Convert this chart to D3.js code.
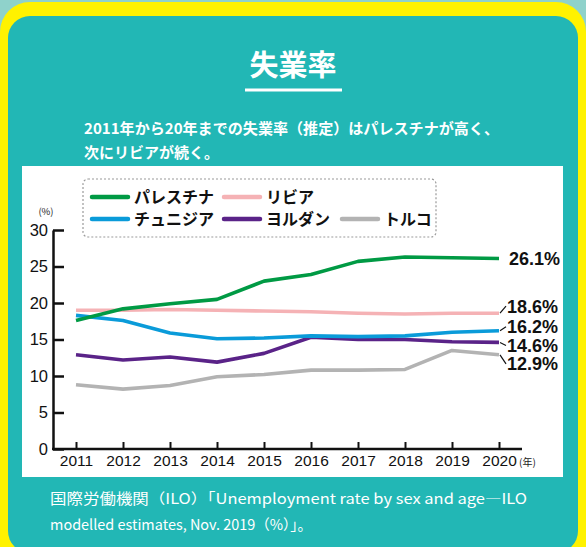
<!DOCTYPE html>
<html>
<head>
<meta charset="utf-8">
<script src="https://cdn.jsdelivr.net/npm/d3@7"></script>
<style>
  body { margin: 0; background: #8fd2cb; }
  svg { display: block; }
</style>
</head>
<body>
<div id="chart"></div>
<script>
// data
const years = [2011, 2012, 2013, 2014, 2015, 2016, 2017, 2018, 2019, 2020];
const palestine = [17.6, 19.2, 19.9, 20.5, 23.0, 23.9, 25.7, 26.3, 26.2, 26.1];
const libya = [19.0, 19.0, 19.1, 19.0, 18.9, 18.8, 18.6, 18.5, 18.6, 18.6];
const tunisia = [18.3, 17.6, 15.9, 15.1, 15.2, 15.5, 15.4, 15.5, 16.0, 16.2];
const jordan = [12.9, 12.2, 12.6, 11.9, 13.1, 15.3, 15.0, 15.0, 14.7, 14.6];
const turkey = [8.8, 8.2, 8.7, 9.9, 10.2, 10.8, 10.8, 10.9, 13.5, 12.9];
const seriesNames = ["パレスチナ", "リビア", "チュニジア", "ヨルダン", "トルコ"];
const yTicks = [0, 5, 10, 15, 20, 25, 30];

const colors = ["#009a44", "#f5b2b5", "#0a9bd9", "#5a2388", "#b3b3b3"];
const seriesValues = [palestine, libya, tunisia, jordan, turkey];
const series = seriesNames.map((name, i) => ({ name, values: seriesValues[i], color: colors[i] }));

// end label placement (offset of label centre from the line end, px)
const labelShift = [0, -7, -4, 3, 9];

const W = 586, H = 547;
const svg = d3.select("#chart").append("svg").attr("width", W).attr("height", H);

// frame
svg.append("rect").attr("x", 0).attr("y", 2).attr("width", W).attr("height", H + 30)
  .attr("rx", 30).attr("fill", "#fff200");
svg.append("rect").attr("x", 8).attr("y", 16).attr("width", 570).attr("height", H - 10)
  .attr("rx", 22).attr("fill", "#22b7b5");
svg.append("rect").attr("x", 22).attr("y", 166).attr("width", 541).attr("height", 311)
  .attr("fill", "#fff");

const jp = "'Noto Sans CJK JP', 'Noto Sans', sans-serif";
const num = "'Liberation Sans', Arial, sans-serif";

// title
svg.append("text").attr("x", 293).attr("y", 76).attr("text-anchor", "middle")
  .attr("font-family", jp).attr("font-weight", 700).attr("font-size", 29)
  .attr("fill", "#fff").text("失業率");
svg.append("line").attr("x1", 245).attr("x2", 342).attr("y1", 90).attr("y2", 90)
  .attr("stroke", "#fff").attr("stroke-width", 3);

const sub = svg.append("g").attr("font-family", jp).attr("font-weight", 700)
  .attr("font-size", 15).attr("fill", "#fff");
sub.append("text").attr("x", 84).attr("y", 134).attr("textLength", 415)
  .attr("lengthAdjust", "spacingAndGlyphs")
  .text("2011年から20年までの失業率（推定）はパレスチナが高く、");
sub.append("text").attr("x", 84).attr("y", 158).text("次にリビアが続く。");

// scales
const x = d3.scaleLinear().domain([2011, 2020]).range([76, 499]);
const y = d3.scaleLinear().domain([0, 30]).range([449, 230]);
const axisX = 53;

const yAxis = svg.append("g").attr("transform", `translate(${axisX},0)`)
  .call(d3.axisLeft(y).tickValues(yTicks).tickSizeInner(-11).tickSizeOuter(0).tickPadding(5));
yAxis.select(".domain").attr("stroke", "#111").attr("stroke-width", 2.5);
yAxis.selectAll(".tick line").attr("stroke", "#111").attr("stroke-width", 2.5);
yAxis.selectAll(".tick text").attr("font-family", num).attr("font-size", 16.5).attr("fill", "#111");

const xAxis = svg.append("g").attr("transform", `translate(0,${y(0)})`)
  .call(d3.axisBottom(x).tickValues(years).tickFormat(d3.format("d"))
    .tickSizeInner(-7).tickSizeOuter(0).tickPadding(6));
xAxis.select(".domain").remove();
xAxis.append("line").attr("x1", axisX - 1).attr("x2", x(2020) + 23)
  .attr("stroke", "#111").attr("stroke-width", 2.5);
xAxis.selectAll(".tick line").attr("stroke", "#111").attr("stroke-width", 2);
xAxis.selectAll(".tick text").attr("font-family", num).attr("font-size", 15.5).attr("fill", "#111");

svg.append("text").attr("x", 46).attr("y", 215).attr("text-anchor", "middle")
  .attr("font-family", jp).attr("font-size", 9.5).attr("fill", "#222").text("(%)");
svg.append("text").attr("x", x(2020) + 20).attr("y", 466)
  .attr("font-family", jp).attr("font-size", 10).attr("fill", "#222").text("(年)");

// lines
const line = d3.line().x((d, i) => x(years[i])).y(d => y(d)).curve(d3.curveLinear);
svg.append("g").selectAll("path").data(series.slice().reverse()).join("path")
  .attr("d", d => line(d.values))
  .attr("fill", "none").attr("stroke", d => d.color)
  .attr("stroke-width", 3.6).attr("stroke-linejoin", "round");

// end labels
const ends = svg.append("g");
series.forEach((s, i) => {
  const v = s.values[s.values.length - 1];
  const ex = x(years[years.length - 1]);
  const ey = y(v);
  const ly = ey + labelShift[i];
  if (labelShift[i] !== 0) {
    ends.append("line").attr("x1", ex + 1).attr("y1", ey).attr("x2", ex + 7).attr("y2", ly)
      .attr("stroke", "#111").attr("stroke-width", 1.2);
  }
  ends.append("text").attr("x", ex + (labelShift[i] === 0 ? 10 : 8)).attr("y", ly)
    .attr("dy", "0.36em").attr("font-family", num).attr("font-weight", 700)
    .attr("font-size", 18).attr("fill", "#111").text(d3.format(".1f")(v) + "%");
});

// legend
svg.append("rect").attr("x", 83).attr("y", 179).attr("width", 353).attr("height", 58)
  .attr("rx", 5).attr("fill", "none").attr("stroke", "#9a9a9a")
  .attr("stroke-width", 1.2).attr("stroke-dasharray", "2,2");
const legPos = [[92, 197], [224, 197], [92, 219], [224, 219], [342, 219]];
const leg = svg.append("g").selectAll("g").data(series).join("g")
  .attr("transform", (d, i) => `translate(${legPos[i][0]},${legPos[i][1]})`);
leg.append("line").attr("x1", 0).attr("x2", 36)
  .attr("stroke", d => d.color).attr("stroke-width", 4.5).attr("stroke-linecap", "round");
leg.append("text").attr("x", 42).attr("dy", "0.36em")
  .attr("font-family", jp).attr("font-weight", 700).attr("font-size", 16)
  .attr("fill", "#111").text(d => d.name);

// source
const src = svg.append("g").attr("font-family", jp).attr("font-size", 14.5).attr("fill", "#fff");
src.append("text").attr("x", 50).attr("y", 504).attr("textLength", 477)
  .attr("lengthAdjust", "spacingAndGlyphs")
  .text("国際労働機関（ILO）「Unemployment rate by sex and age―ILO");
src.append("text").attr("x", 50).attr("y", 530).attr("textLength", 262)
  .attr("lengthAdjust", "spacingAndGlyphs")
  .text("modelled estimates, Nov. 2019（%）」。");
</script>
</body>
</html>
